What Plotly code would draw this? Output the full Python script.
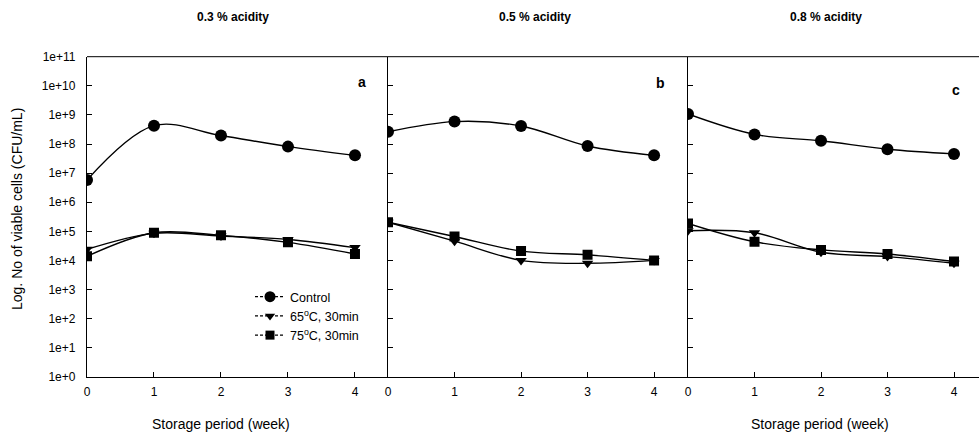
import plotly.graph_objects as go

weeks = [0, 1, 2, 3, 4]
panels = ["a", "b", "c"]
panel_titles = ["0.3 % acidity", "0.5 % acidity", "0.8 % acidity"]
series_names = ["Control", "65<sup>o</sup>C, 30min", "75<sup>o</sup>C, 30min"]

# log10 CFU/mL values
control_a = [6.76, 8.63, 8.29, 7.91, 7.61]
heat65_a = [4.38, 4.93, 4.84, 4.72, 4.44]
heat75_a = [4.14, 4.95, 4.86, 4.62, 4.22]

control_b = [8.42, 8.77, 8.62, 7.93, 7.61]
heat65_b = [5.31, 4.66, 4.00, 3.90, 4.00]
heat75_b = [5.31, 4.82, 4.32, 4.19, 4.00]

control_c = [9.03, 8.33, 8.11, 7.82, 7.66]
heat65_c = [5.02, 4.95, 4.28, 4.13, 3.90]
heat75_c = [5.27, 4.64, 4.36, 4.22, 3.96]

y_tick_exponents = list(range(0, 12))
y_tick_labels = [f"1e+{e}" for e in y_tick_exponents]

data = [
    [control_a, heat65_a, heat75_a],
    [control_b, heat65_b, heat75_b],
    [control_c, heat65_c, heat75_c],
]
symbols = ["circle", "triangle-down", "square"]
sizes = [12, 10, 10]

W, H = 979, 437
FONT = "Liberation Sans, Arial, sans-serif"

# pixel geometry
x_left = [87, 388, 688]
x_right = [387, 688, 979]
x_range_max = [4.478, 4.51, 4.376]
y_top, y_bot = 56.7, 376.8

fig = go.Figure()

for p in range(3):
    xa = "x" if p == 0 else f"x{p+1}"
    ya = "y" if p == 0 else f"y{p+1}"
    for s in range(3):
        vals = [10 ** v for v in data[p][s]]
        fig.add_trace(go.Scatter(
            x=weeks, y=vals, xaxis=xa, yaxis=ya,
            mode="lines+markers",
            name=series_names[s],
            showlegend=False,
            line=dict(color="black", width=1.4, shape="spline", smoothing=1.0),
            marker=dict(symbol=symbols[s], size=sizes[s], color="black",
                        line=dict(width=0)),
        ))

# legend entries (dashed line through marker, as in the reference legend)
for s in range(3):
    fig.add_trace(go.Scatter(
        x=[None], y=[None], mode="lines+markers", name=series_names[s],
        showlegend=True,
        line=dict(color="black", width=1.3, dash="3px,2px"),
        marker=dict(symbol=symbols[s], size=sizes[s] - 1, color="black",
                    line=dict(width=0)),
    ))

layout = dict(
    template="none",
    width=W, height=H,
    margin=dict(l=0, r=0, t=0, b=0, pad=0),
    paper_bgcolor="white", plot_bgcolor="white",
    font=dict(family=FONT, color="black", size=12),
    showlegend=True,
    legend=dict(x=250 / W, y=1 - 282 / H, xanchor="left", yanchor="top",
                bgcolor="rgba(0,0,0,0)", borderwidth=0,
                font=dict(size=12.5, family=FONT),
                tracegroupgap=0, itemwidth=30),
)

for p in range(3):
    k = "" if p == 0 else str(p + 1)
    layout["xaxis" + k] = dict(
        domain=[x_left[p] / W, x_right[p] / W],
        range=[0, x_range_max[p]],
        anchor="y" + k,
        automargin=False,
        tickvals=weeks, ticktext=[str(w) for w in weeks],
        ticks="inside", ticklen=5, tickcolor="black", tickwidth=1,
        showline=True, linecolor="black", linewidth=1,
        showgrid=False, zeroline=False,
        tickfont=dict(size=12, family=FONT),
        ticklabelstandoff=4,
        mirror=False,
    )
    layout["yaxis" + k] = dict(
        domain=[1 - y_bot / H, 1 - y_top / H],
        type="log", range=[0, 11],
        anchor="x" + k,
        automargin=False,
        tickvals=[10 ** e for e in y_tick_exponents],
        ticktext=y_tick_labels,
        showticklabels=(p == 0),
        ticks="inside", ticklen=5, tickcolor="black", tickwidth=1,
        showline=True, linecolor="black", linewidth=1.3,
        showgrid=False, zeroline=False,
        tickfont=dict(size=12, family=FONT),
        ticklabelstandoff=8,
    )

fig.update_layout(**layout)

# top border across all panels
fig.add_shape(type="line", xref="paper", yref="paper",
              x0=87 / W, x1=1, y0=1 - y_top / H, y1=1 - y_top / H,
              line=dict(color="black", width=1))

annotations = []
title_x = [233, 535, 826]
letter_pos = [(362, 82), (660, 83), (956, 90)]
for p in range(3):
    annotations.append(dict(
        text=f"<b>{panel_titles[p]}</b>", x=title_x[p] / W, y=1 - 17 / H,
        xref="paper", yref="paper", showarrow=False,
        xanchor="center", yanchor="middle",
        font=dict(size=12, family=FONT)))
    annotations.append(dict(
        text=f"<b>{panels[p]}</b>", x=letter_pos[p][0] / W, y=1 - letter_pos[p][1] / H,
        xref="paper", yref="paper", showarrow=False,
        xanchor="center", yanchor="middle",
        font=dict(size=14, family=FONT)))

for xc in [221, 820]:
    annotations.append(dict(
        text="Storage period (week)", x=xc / W, y=1 - 424 / H,
        xref="paper", yref="paper", showarrow=False,
        xanchor="center", yanchor="middle",
        font=dict(size=14, family=FONT)))

annotations.append(dict(
    text="Log. No of viable cells (CFU/mL)", x=17 / W, y=1 - 209 / H,
    xref="paper", yref="paper", showarrow=False, textangle=-90,
    xanchor="center", yanchor="middle",
    font=dict(size=14, family=FONT)))

fig.update_layout(annotations=annotations)

fig.write_html(
    "out.html",
    config={"displayModeBar": False},
    post_script="document.body.style.margin='0';document.body.style.overflow='hidden';",
)
